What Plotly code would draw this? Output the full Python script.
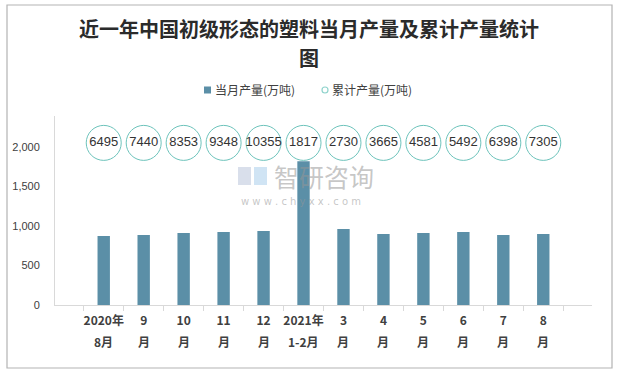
import plotly.graph_objects as go

categories = ["2020年8月", "2020年9月", "2020年10月", "2020年11月", "2020年12月", "2021年1-2月",
              "2021年3月", "2021年4月", "2021年5月", "2021年6月", "2021年7月", "2021年8月"]
tick_line1 = ["2020年", "9", "10", "11", "12", "2021年", "3", "4", "5", "6", "7", "8"]
tick_line2 = ["8月", "月", "月", "月", "月", "1-2月", "月", "月", "月", "月", "月", "月"]
monthly = [872, 884, 909, 922, 935, 1817, 960, 897, 909, 922, 884, 897]
cumulative = [6495, 7440, 8353, 9348, 10355, 1817, 2730, 3665, 4581, 5492, 6398, 7305]
y_ticks = [0, 500, 1000, 1500, 2000]
y_tick_text = ["0", "500", "1,000", "1,500", "2,000"]
series_names = ["当月产量(万吨)", "累计产量(万吨)"]
title_lines = ["近一年中国初级形态的塑料当月产量及累计产量统计", "图"]
label_level = 2050

W, H = 618, 374
L, R, T, B = 55, 26, 116, 69
pw, ph = W - L - R, H - T - B

BAR_COLOR = "#5b8fa7"
CIRCLE_COLOR = "#6cc3bb"
TICK_FONT = dict(family="Noto Sans CJK SC", size=12, color="#404040", weight="bold")
TITLE_FONT = dict(family="Noto Sans CJK SC", size=20, color="#2b2b2b", weight="bold")

fig = go.Figure()
fig.add_trace(go.Bar(
    x=categories, y=monthly, name=series_names[0],
    marker=dict(color=BAR_COLOR, line=dict(width=0)), showlegend=False,
))
fig.add_trace(go.Scatter(
    x=categories, y=[label_level] * len(categories), mode="markers+text",
    name=series_names[1],
    text=[str(v) for v in cumulative], textposition="middle center",
    textfont=dict(family="Liberation Sans, Arial", size=13, color="#333333"),
    marker=dict(size=35, color="white", line=dict(color=CIRCLE_COLOR, width=1)),
    showlegend=False, hoverinfo="skip", cliponaxis=False,
))


def px(x):
    return (x - L) / pw


def py(y):
    return 1 - (y - T) / ph


# second line of the category labels
for cat, t2 in zip(categories, tick_line2):
    fig.add_annotation(xref="x", yref="paper", x=cat, y=py(341), text=t2, showarrow=False,
                       xanchor="center", yanchor="middle", font=TICK_FONT)

# second title line
fig.add_annotation(xref="paper", yref="paper", x=px(309), y=py(57), text=title_lines[1],
                   showarrow=False, xanchor="center", yanchor="middle", font=TITLE_FONT)

# outer border
fig.add_shape(type="rect", xref="paper", yref="paper",
              x0=px(7), x1=px(612), y0=py(368), y1=py(5),
              line=dict(color="#b3b3b3", width=1.2), layer="below")

# legend (drawn)
fig.add_shape(type="rect", xref="paper", yref="paper",
              x0=px(204), x1=px(211), y0=py(93.5), y1=py(86.5),
              line=dict(width=0), fillcolor=BAR_COLOR)
fig.add_annotation(xref="paper", yref="paper", x=px(213), y=py(90), xanchor="left", yanchor="middle",
                   text=series_names[0], showarrow=False,
                   font=dict(family="Noto Sans CJK SC", size=12, color="#404040"))
fig.add_shape(type="circle", xref="paper", yref="paper",
              x0=px(322), x1=px(328), y0=py(93), y1=py(87),
              line=dict(width=1.2, color="#8fd3cc"), fillcolor="white")
fig.add_annotation(xref="paper", yref="paper", x=px(330), y=py(90), xanchor="left", yanchor="middle",
                   text=series_names[1], showarrow=False,
                   font=dict(family="Noto Sans CJK SC", size=12, color="#404040"))

# watermark
fig.add_shape(type="rect", xref="paper", yref="paper", x0=px(238), x1=px(251), y0=py(185), y1=py(167),
              line=dict(width=0), fillcolor="rgba(170,185,210,0.45)", layer="below")
fig.add_shape(type="rect", xref="paper", yref="paper", x0=px(254), x1=px(267), y0=py(185), y1=py(167),
              line=dict(width=0), fillcolor="rgba(150,195,230,0.45)", layer="below")
fig.add_annotation(xref="paper", yref="paper", x=px(272), y=py(176), xanchor="left", yanchor="middle",
                   text="智研咨询", showarrow=False,
                   font=dict(family="Noto Sans CJK SC", size=25, color="rgba(150,150,150,0.55)"))
fig.add_annotation(xref="paper", yref="paper", x=px(239), y=py(201), xanchor="left", yanchor="middle",
                   text="w w w . c h y x x . c o m", showarrow=False,
                   font=dict(family="DejaVu Sans", size=10, color="rgba(150,150,150,0.55)"))

fig.update_layout(
    template="none",
    width=W, height=H,
    margin=dict(l=L, r=R, t=T, b=B, autoexpand=False),
    paper_bgcolor="white", plot_bgcolor="white",
    title=dict(text=title_lines[0],
               x=0.5, xanchor="center", xref="container", yref="container",
               y=1 - 30 / H, yanchor="middle", font=TITLE_FONT),
    bargap=0.69,
    showlegend=False,
)
fig.update_xaxes(
    automargin=False,
    categoryorder="array", categoryarray=categories,
    tickvals=categories, ticktext=tick_line1,
    showline=True, linecolor="#d9d9d9", linewidth=1,
    ticks="outside", tickson="boundaries", ticklen=5, tickcolor="#d9d9d9",
    tickfont=TICK_FONT, ticklabelstandoff=5,
    showgrid=False, tickangle=0, fixedrange=True, zeroline=False,
)
fig.update_yaxes(
    automargin=False,
    range=[0, 2390], tickvals=y_ticks, ticktext=y_tick_text,
    showline=True, linecolor="#d9d9d9", linewidth=1, showgrid=False, zeroline=False,
    tickfont=dict(family="Liberation Sans, Arial", size=11, color="#404040"), ticks="",
    ticklabelstandoff=12, fixedrange=True,
)

fig.write_html("out.html", config={"displayModeBar": False, "staticPlot": True},
               post_script="document.body.style.margin='0';document.body.style.overflow='hidden';")
